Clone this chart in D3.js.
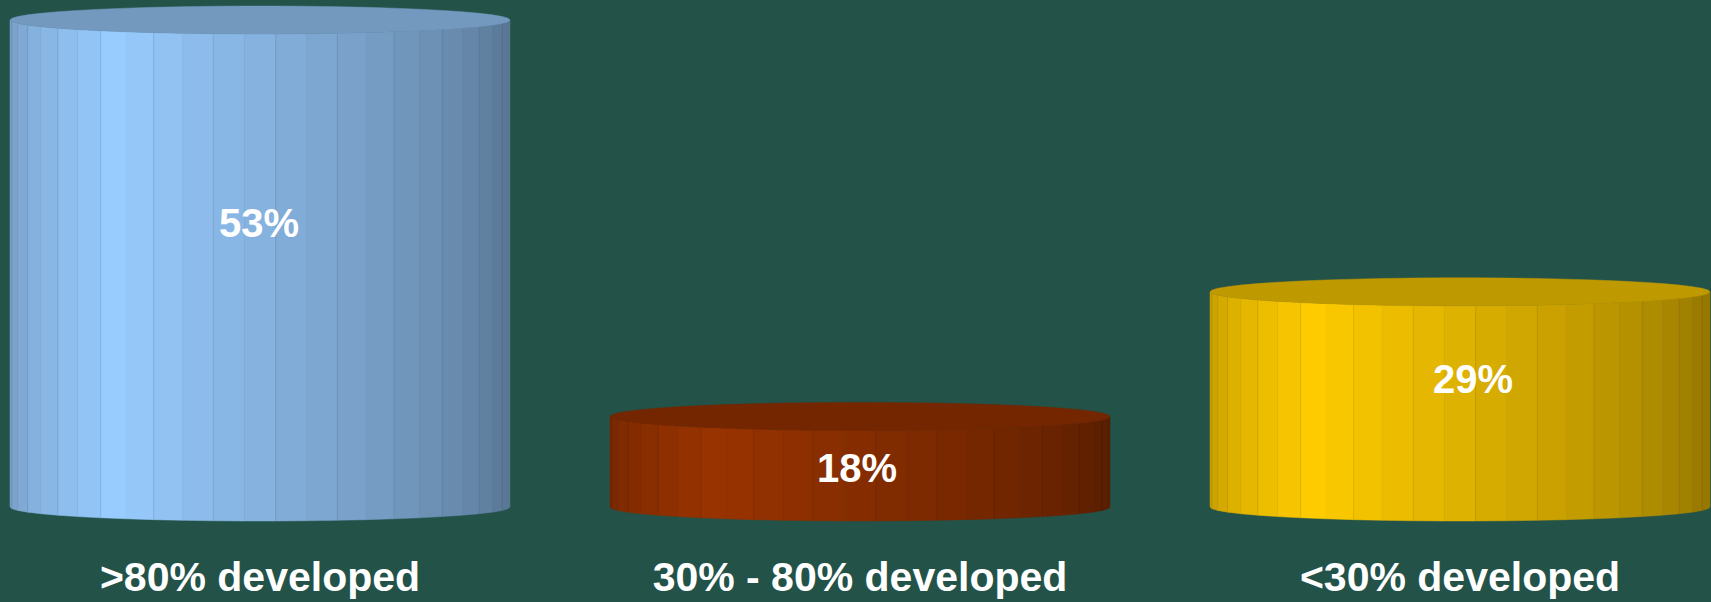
<!DOCTYPE html>
<html>
<head>
<meta charset="utf-8">
<script src="https://cdn.jsdelivr.net/npm/d3@7"></script>
<style>
  html, body { margin: 0; padding: 0; background: #235248; }
  svg { display: block; }
</style>
</head>
<body>
<svg id="chart" width="1711" height="602"></svg>
<script>
// ---- data ----
const categories = [">80% developed", "30% - 80% developed", "<30% developed"];
const values = [53, 18, 29];
const valueLabels = ["53%", "18%", "29%"];
const seriesColors = ["#99CCFF", "#993300", "#FFCC00"];
const axisMin = 10;

// ---- layout ----
const W = 1711, H = 602;
const svg = d3.select("#chart");
svg.append("rect").attr("width", W).attr("height", H).attr("fill", "#235248");

const x = d3.scalePoint().domain(categories).range([260, 1460]);
const y = d3.scaleLinear().domain([axisMin, d3.max(values)]).range([507, 20]);

const rx = 250, ry = 14;
const N = 50; // facets around the cylinder
const step = 2 * Math.PI / N;
const lightDeg = 125;

function shade(color, k) {
  const c = d3.rgb(color);
  return d3.rgb(c.r * k, c.g * k, c.b * k).formatHex();
}
function intensity(phiDeg) {
  const d = phiDeg - lightDeg;
  if (d >= 0) return Math.max(0.55, 1 - 0.0045 * d);
  return Math.max(0.59, 1 - 0.0037 * (-d));
}

const labelDx = [-1, -3, 13];
const labelDy = [-41, 6, -21];

const g = svg.append("g");

categories.forEach((cat, i) => {
  const cx = x(cat);
  const topCy = y(values[i]);
  const botCy = y(axisMin);
  const base = seriesColors[i];
  const cyl = g.append("g").attr("class", "cylinder");

  // side facets (front half)
  const facets = d3.range(N / 2).map(k => {
    const a0 = k * step, a1 = (k + 1) * step;
    const mid = (a0 + a1) / 2 * 180 / Math.PI;
    return { a0, a1, mid };
  });
  cyl.selectAll("path.side")
    .data(facets)
    .join("path")
    .attr("class", "side")
    .attr("d", f => {
      const x0 = cx + rx * Math.cos(f.a0), x1 = cx + rx * Math.cos(f.a1);
      const s0 = ry * Math.sin(f.a0), s1 = ry * Math.sin(f.a1);
      return `M${x0},${topCy + s0}L${x1},${topCy + s1}L${x1},${botCy + s1}L${x0},${botCy + s0}Z`;
    })
    .attr("fill", f => shade(base, intensity(f.mid)))
    .attr("stroke", f => shade(base, intensity(f.mid)))
    .attr("stroke-width", 0.5);

  // faint facet edges
  cyl.selectAll("line.edge")
    .data(facets.filter((f, k) => k % 2 === 1))
    .join("line")
    .attr("class", "edge")
    .attr("x1", f => cx + rx * Math.cos(f.a1))
    .attr("x2", f => cx + rx * Math.cos(f.a1))
    .attr("y1", f => topCy + ry * Math.sin(f.a1))
    .attr("y2", f => botCy + ry * Math.sin(f.a1))
    .attr("stroke", f => shade(base, intensity(f.mid) * 0.8))
    .attr("stroke-width", 0.7)
    .attr("stroke-opacity", 0.45);

  // top face
  const pts = d3.range(N).map(k => [cx + rx * Math.cos(k * step), topCy + ry * Math.sin(k * step)]);
  cyl.append("path")
    .attr("d", "M" + pts.map(p => p.join(",")).join("L") + "Z")
    .attr("fill", shade(base, 0.75))
    .attr("stroke", shade(base, 0.75))
    .attr("stroke-width", 0.5);

  // value label
  cyl.append("text")
    .attr("x", cx + labelDx[i])
    .attr("y", (topCy + botCy) / 2 + labelDy[i])
    .attr("dy", "0.36em")
    .attr("text-anchor", "middle")
    .attr("fill", "#ffffff")
    .attr("font-family", "'Liberation Sans', Arial, sans-serif")
    .attr("font-weight", "bold")
    .attr("font-size", 40)
    .text(valueLabels[i]);
});

// category labels
g.selectAll("text.cat")
  .data(categories)
  .join("text")
  .attr("class", "cat")
  .attr("x", d => x(d))
  .attr("y", 591)
  .attr("text-anchor", "middle")
  .attr("fill", "#ffffff")
  .attr("font-family", "'Liberation Sans', Arial, sans-serif")
  .attr("font-weight", "bold")
  .attr("font-size", 41)
  .text(d => d);
</script>
</body>
</html>
